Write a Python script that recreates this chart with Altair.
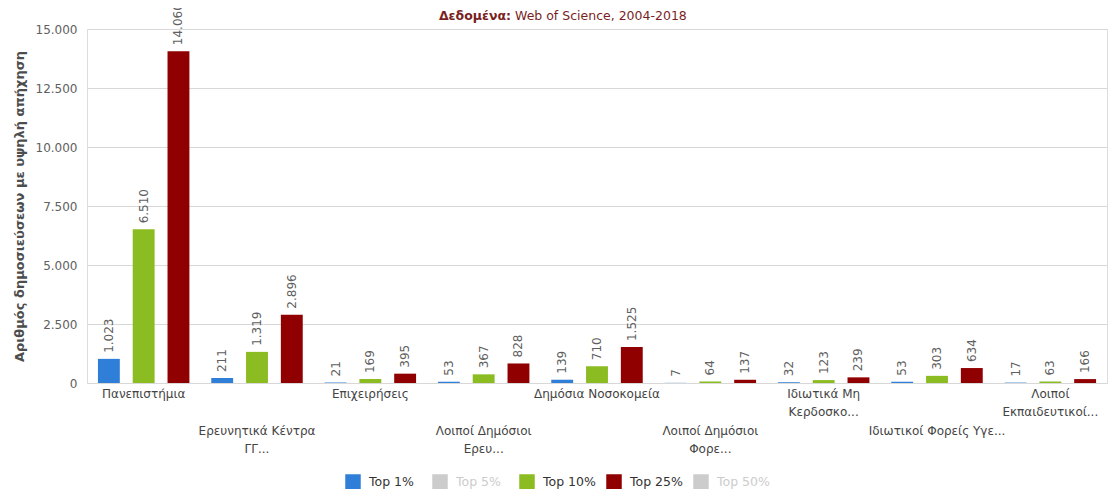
import altair as alt
import pandas as pd

# ---------------- data ----------------
categories = [
    "Πανεπιστήμια",
    "Ερευνητικά Κέντρα ΓΓ...",
    "Επιχειρήσεις",
    "Λοιποί Δημόσιοι Ερευ...",
    "Δημόσια Νοσοκομεία",
    "Λοιποί Δημόσιοι Φορε...",
    "Ιδιωτικά Μη Κερδοσκο...",
    "Ιδιωτικοί Φορείς Υγε...",
    "Λοιποί Εκπαιδευτικοί...",
]
category_lines = [
    "Πανεπιστήμια",
    "Ερευνητικά Κέντρα\nΓΓ...",
    "Επιχειρήσεις",
    "Λοιποί Δημόσιοι\nΕρευ...",
    "Δημόσια Νοσοκομεία",
    "Λοιποί Δημόσιοι\nΦορε...",
    "Ιδιωτικά Μη\nΚερδοσκο...",
    "Ιδιωτικοί Φορείς Υγε...",
    "Λοιποί\nΕκπαιδευτικοί...",
]
label_row = [0, 1, 0, 1, 0, 1, 0, 1, 0]

top1 = [1023, 211, 21, 53, 139, 7, 32, 53, 17]
top10 = [6510, 1319, 169, 367, 710, 64, 123, 303, 63]
top25 = [14060, 2896, 395, 828, 1525, 137, 239, 634, 166]

series_all = ["Top 1%", "Top 5%", "Top 10%", "Top 25%", "Top 50%"]
series_visible = ["Top 1%", "Top 10%", "Top 25%"]
series_hidden = ["Top 5%", "Top 50%"]
series_colors = ["#2f7ed8", "#cccccc", "#8bbc21", "#910000", "#cccccc"]

y_ticks = [0, 2500, 5000, 7500, 10000, 12500, 15000]
title_bold = "Δεδομένα:"
title_rest = "Web of Science, 2004-2018"
y_title = "Αριθμός δημοσιεύσεων με υψηλή απήχηση"

# ---------------- tables ----------------
rows = []
for name, vals in zip(series_visible, [top1, top10, top25]):
    for c, v in zip(categories, vals):
        rows.append({"category": c, "series": name, "value": v,
                     "label": f"{v:,}".replace(",", ".")})
df_bars = pd.DataFrame(rows)
df_cats = pd.DataFrame({"category": categories, "text": category_lines, "row": label_row})
df_leg = pd.DataFrame({"series": series_all})

W, H = 1020, 354

color_scale = alt.Scale(domain=series_all, range=series_colors)
x_cat = alt.X(
    "category:N", sort=categories,
    scale=alt.Scale(paddingInner=0, paddingOuter=0),
    axis=alt.Axis(title=None, labels=False, tickBand="extent", tickSize=6,
                  tickColor="#C0D0E0", domainColor="#C0D0E0", grid=False),
)
x_off = alt.XOffset("series:N", sort=series_visible,
                    scale=alt.Scale(paddingInner=0.371, paddingOuter=0.314))
y_val = alt.Y(
    "value:Q", scale=alt.Scale(domain=[0, 15000]),
    axis=alt.Axis(values=y_ticks,
                  labelExpr="replace(format(datum.value, ','), ',', '.')",
                  title=y_title, titleFontWeight="bold", titleFontSize=13,
                  titleColor="#4d4d4d", titlePadding=9,
                  labelColor="#606060", labelFontSize=12, labelPadding=10,
                  domain=False, ticks=False, gridColor="#D8D8D8"),
)

base = alt.Chart(df_bars)
bars = base.mark_bar().encode(
    x=x_cat, xOffset=x_off, y=y_val,
    color=alt.Color("series:N", scale=color_scale, legend=None),
)
values = base.mark_text(angle=270, align="left", baseline="middle", dx=6,
                        fontSize=12, color="#606060").encode(
    x=x_cat, xOffset=x_off, y=y_val, text="label:N",
)

x_cat_noaxis = alt.X("category:N", sort=categories,
                     scale=alt.Scale(paddingInner=0, paddingOuter=0), axis=None)
cat0 = alt.Chart(df_cats).transform_filter("datum.row == 0").mark_text(
    align="center", baseline="top", lineBreak="\n", lineHeight=18,
    fontSize=12, color="#444444").encode(
    x=x_cat_noaxis, y=alt.value(H + 6), text="text:N")
cat1 = alt.Chart(df_cats).transform_filter("datum.row == 1").mark_text(
    align="center", baseline="top", lineBreak="\n", lineHeight=18,
    fontSize=12, color="#444444").encode(
    x=x_cat_noaxis, y=alt.value(H + 43), text="text:N")

t1 = alt.Chart(pd.DataFrame({"t": [title_bold]})).mark_text(
    align="right", baseline="middle", fontSize=12.5, fontWeight="bold",
    color="#7a1f1f").encode(x=alt.value(424), y=alt.value(-13), text="t:N")
t2 = alt.Chart(pd.DataFrame({"t": [title_rest]})).mark_text(
    align="left", baseline="middle", fontSize=12.5,
    color="#7a1f1f").encode(x=alt.value(428), y=alt.value(-13), text="t:N")

main = alt.layer(bars, values, cat0, cat1, t1, t2)

x_leg = alt.X("series:N", sort=series_all,
              scale=alt.Scale(type="point", padding=0, range=[266, 614]), axis=None)
leg_sym = alt.Chart(df_leg).mark_point(shape="square", filled=True, size=240,
                                       opacity=1).encode(
    x=x_leg, y=alt.value(H + 99),
    color=alt.Color("series:N", scale=color_scale, legend=None))
leg_txt = alt.Chart(df_leg).mark_text(align="left", baseline="middle", dx=16,
                                      fontSize=12.5).encode(
    x=x_leg, y=alt.value(H + 99), text="series:N",
    color=alt.when(alt.FieldOneOfPredicate(field="series", oneOf=series_hidden))
    .then(alt.value("#cccccc")).otherwise(alt.value("#333333")))
legend = alt.layer(leg_sym, leg_txt)

chart = alt.layer(main, legend).resolve_scale(x="independent").properties(
    width=W, height=H,
    autosize=alt.AutoSizeParams(type="none"),
    padding={"left": 79, "top": 21, "right": 1, "bottom": 106},
).configure_view(stroke=None).configure(font="DejaVu Sans")

chart.save("out.html", embed_options={"renderer": "svg", "actions": False})
